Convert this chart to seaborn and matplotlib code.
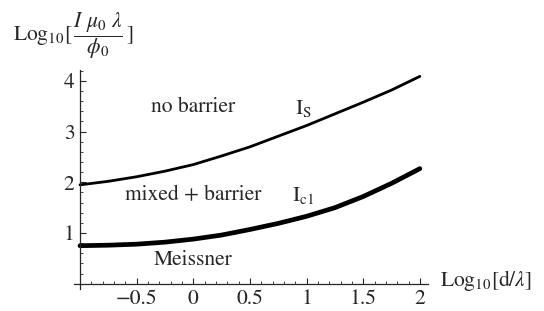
import pandas as pd
import seaborn as sns
import numpy as np
import matplotlib.pyplot as plt
from matplotlib.ticker import MultipleLocator, FixedLocator

# values
log_d = [-1.0, -0.75, -0.5, -0.25, 0.0, 0.25, 0.5, 0.75, 1.0, 1.25, 1.5, 1.75, 2.0]
log_Is = [1.95, 2.02, 2.11, 2.22, 2.35, 2.52, 2.70, 2.91, 3.12, 3.35, 3.58, 3.82, 4.09]
log_Ic1 = [0.75, 0.76, 0.78, 0.82, 0.88, 0.96, 1.07, 1.19, 1.33, 1.50, 1.72, 1.98, 2.27]

x_ticks = [-0.5, 0, 0.5, 1, 1.5, 2]
x_tick_labels = ['\u22120.5', '0', '0.5', '1', '1.5', '2']
y_ticks = [1, 2, 3, 4]

df = pd.DataFrame({'log_d': log_d, 'Is': log_Is, 'Ic1': log_Ic1})

sns.set_style('ticks')
plt.rcParams['font.family'] = ['STIXGeneral', 'DejaVu Serif']
plt.rcParams['mathtext.fontset'] = 'stix'
fs = 15.5

fig = plt.figure(figsize=(5.44, 3.11), dpi=100)
ax = fig.add_axes([0.1366, 0.0714, 0.6498, 0.7026])

sns.lineplot(data=df, x='log_d', y='Is', ax=ax, color='black', lw=2.0)
sns.lineplot(data=df, x='log_d', y='Ic1', ax=ax, color='black', lw=3.4)

ax.set_xlim(-1.05, 2.07)
ax.set_ylim(-0.1, 4.21)
ax.spines['left'].set_position(('data', -1))
ax.spines['bottom'].set_position(('data', 0))
ax.spines['right'].set_visible(False)
ax.spines['top'].set_visible(False)
for s in ['left', 'bottom']:
    ax.spines[s].set_linewidth(0.9)

ax.xaxis.set_major_locator(FixedLocator(x_ticks))
ax.set_xticklabels(x_tick_labels)
ax.xaxis.set_minor_locator(MultipleLocator(0.1))
ax.yaxis.set_major_locator(FixedLocator(y_ticks))
ax.yaxis.set_minor_locator(MultipleLocator(0.2))
ax.tick_params(which='major', direction='in', length=4, width=0.8, labelsize=fs, pad=4)
ax.tick_params(which='minor', direction='in', length=2.2, width=0.6)
ax.set_xlabel('')
ax.set_ylabel('')

# region labels
ax.text(0.0, 3.49, 'no barrier', ha='center', va='center', fontsize=fs)
ax.text(0.97, 3.45, r'I$_\mathrm{S}$', ha='center', va='center', fontsize=fs)
ax.text(0.0, 1.74, 'mixed + barrier', ha='center', va='center', fontsize=fs)
ax.text(0.97, 1.74, r'I$_\mathrm{c1}$', ha='center', va='center', fontsize=fs)
ax.text(0.0, 0.47, 'Meissner', ha='center', va='center', fontsize=fs)

# axis labels, Mathematica style
ax.text(2.18, 0.06, r'Log$_{10}$[d/$\lambda$]', ha='left', va='center',
        fontsize=fs, clip_on=False)
fig.text(0.024, 0.885, r'Log$_{10}$[$\,\dfrac{I\ \mu_0\ \lambda}{\phi_0}\,$]',
         ha='left', va='center', fontsize=fs)

fig.savefig('out.png', dpi=100)
